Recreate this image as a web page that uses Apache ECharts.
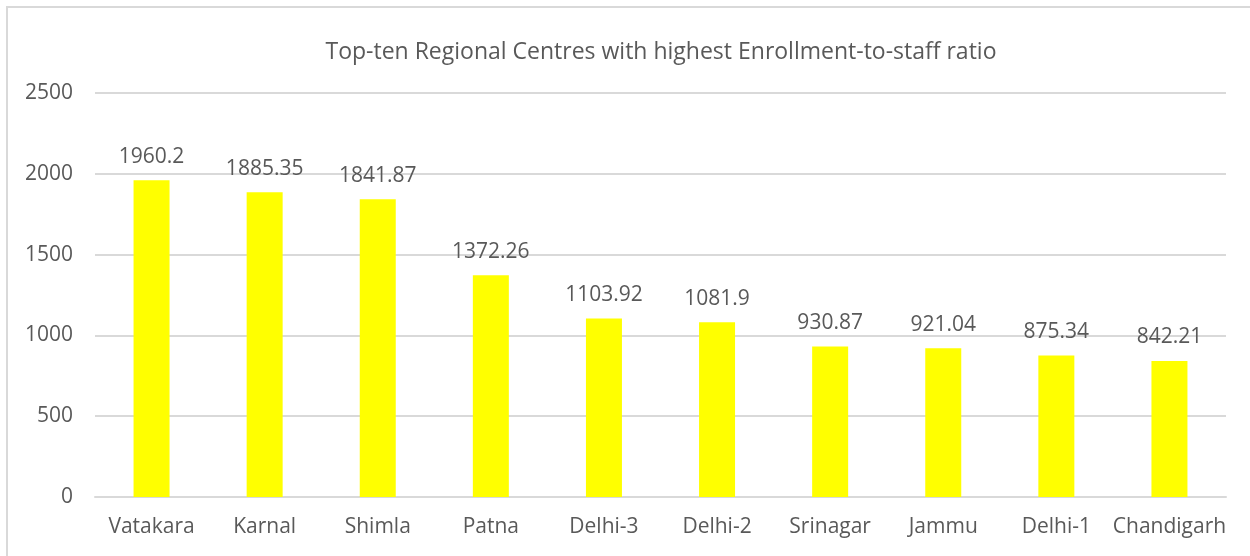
<!DOCTYPE html>
<html>
<head>
<meta charset="utf-8">
<script src="https://cdn.jsdelivr.net/npm/echarts@6/dist/echarts.min.js"></script>
<style>
  html, body { margin: 0; padding: 0; background: #fff; }
  #chart { width: 1250px; height: 556px; }
</style>
</head>
<body>
<div id="chart"></div>
<script>
// Regional centres and their enrollment-to-staff ratios
const centres = ['Vatakara', 'Karnal', 'Shimla', 'Patna', 'Delhi-3', 'Delhi-2', 'Srinagar', 'Jammu', 'Delhi-1', 'Chandigarh'];
const ratios = [1960.2, 1885.35, 1841.87, 1372.26, 1103.92, 1081.9, 930.87, 921.04, 875.34, 842.21];
const titleText = 'Top-ten Regional Centres with highest Enrollment-to-staff ratio';

const textColor = '#595959';
const gridColor = '#d9d9d9';
const fontFamily = '"Open Sans", sans-serif';

const chart = echarts.init(document.getElementById('chart'), null, { renderer: 'canvas' });
chart.setOption({
  animation: false,
  backgroundColor: '#ffffff',
  graphic: [{
    type: 'rect',
    shape: { x: 7, y: 7, width: 1400, height: 700 },
    style: { fill: 'none', stroke: gridColor, lineWidth: 2 },
    silent: true
  }],
  title: {
    text: titleText,
    left: 656,
    textAlign: 'center',
    top: 36,
    textStyle: { color: textColor, fontFamily: fontFamily, fontSize: 23, fontWeight: 'normal' }
  },
  grid: { left: 95, right: 24, top: 93, bottom: 59, containLabel: false },
  xAxis: {
    type: 'category',
    data: centres,
    axisLine: { show: true, lineStyle: { color: gridColor, width: 2 } },
    axisTick: { show: false },
    axisLabel: { interval: 0, color: textColor, fontFamily: fontFamily, fontSize: 21, margin: 20 }
  },
  yAxis: {
    type: 'value',
    min: 0,
    max: 2500,
    interval: 500,
    axisLine: { show: false },
    axisTick: { show: false },
    splitLine: { lineStyle: { color: gridColor, width: 2 } },
    axisLabel: {
      color: textColor, fontFamily: fontFamily, fontSize: 21, margin: 22,
      formatter: v => String(v)
    }
  },
  series: [{
    type: 'bar',
    data: ratios,
    barWidth: 36,
    itemStyle: { color: '#ffff00' },
    label: {
      show: true,
      position: 'top',
      distance: 13,
      color: textColor,
      fontFamily: fontFamily,
      fontSize: 21
    }
  }]
});
</script>
</body>
</html>
